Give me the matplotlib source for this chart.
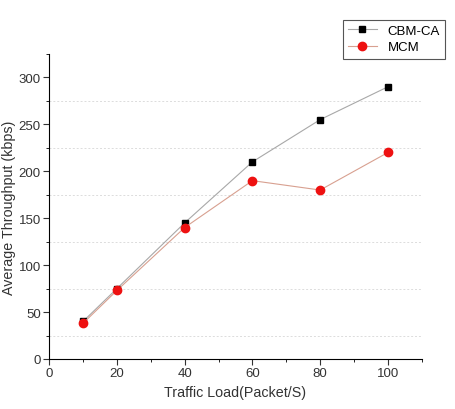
import matplotlib.pyplot as plt
from matplotlib.ticker import MultipleLocator

load = [10, 20, 40, 60, 80, 100]
cbm_ca = [40, 75, 145, 210, 255, 290]
mcm = [38, 73, 140, 190, 180, 220]

plt.rcParams["font.family"] = ["Liberation Sans", "DejaVu Sans"]

fig = plt.figure(figsize=(4.55, 4.1), dpi=100)
ax = fig.add_axes([0.108, 0.122, 0.819, 0.744])

for y in [25, 75, 125, 175, 225, 275]:
	ax.axhline(y, color="#dcdcdc", lw=0.7, ls=(0, (2, 2)), zorder=0)

ax.plot(load, cbm_ca, color="#a8a8a8", lw=0.8, marker="s", ms=5,
	mfc="black", mec="black", label="CBM-CA")
ax.plot(load, mcm, color="#d8a090", lw=0.8, marker="o", ms=6,
	mfc="#ee1111", mec="#ee1111", label="MCM")

ax.set_xlim(0, 110)
ax.set_ylim(0, 325)
ax.xaxis.set_major_locator(MultipleLocator(20))
ax.xaxis.set_minor_locator(MultipleLocator(10))
ax.yaxis.set_major_locator(MultipleLocator(50))
ax.yaxis.set_minor_locator(MultipleLocator(25))
ax.tick_params(which="major", direction="out", length=4, labelsize=9.5, colors="#333333", pad=2)
ax.tick_params(which="minor", direction="out", length=2)
for s in ["top", "right"]:
	ax.spines[s].set_visible(False)
ax.set_xlabel("Traffic Load(Packet/S)", fontsize=10.3, color="#333333")
ax.set_ylabel("Average Throughput (kbps)", fontsize=10.3, color="#333333")
ax.yaxis.set_label_coords(-0.09, 0.5)

leg = fig.legend(loc="upper right", bbox_to_anchor=(0.993, 0.966), fontsize=9.5,
	fancybox=False, edgecolor="#555555", framealpha=1, handlelength=2.2,
	borderpad=0.4, labelspacing=0.3)
leg.get_frame().set_linewidth(0.8)

fig.savefig("out.png", dpi=100)
